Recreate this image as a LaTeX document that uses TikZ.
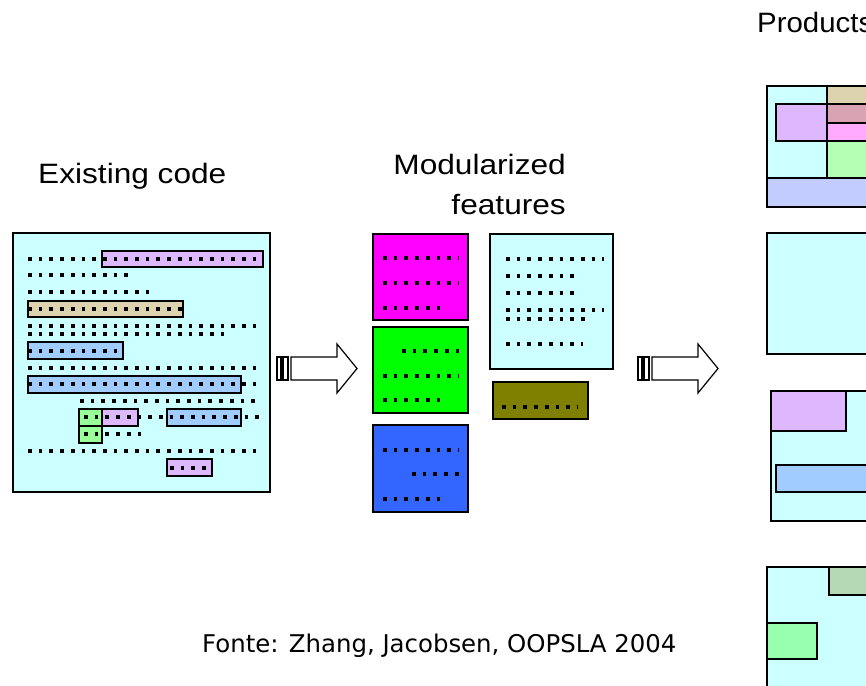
\documentclass[tikz,border=0pt]{standalone}
\usepackage{fontspec}
\setmainfont{Liberation Sans}
\newfontfamily\srcfont{DejaVu Sans}
\usepackage{graphicx}
\definecolor{codebg}{HTML}{CCFFFF}
\definecolor{lilac}{HTML}{DDB8FF}
\definecolor{tan}{HTML}{DDD3AE}
\definecolor{skyblue}{HTML}{A0CCFF}
\definecolor{mint}{HTML}{99FF99}
\definecolor{featmag}{HTML}{FF00FF}
\definecolor{featgrn}{HTML}{00FF00}
\definecolor{featblu}{HTML}{3366FF}
\definecolor{featolv}{HTML}{808000}
\definecolor{rose}{HTML}{D9A3B3}
\definecolor{pinkish}{HTML}{FFAAFF}
\definecolor{palegrn}{HTML}{B3FFB3}
\definecolor{lavblue}{HTML}{C2CCFF}
\definecolor{sage}{HTML}{B5D9B5}
\definecolor{seagrn}{HTML}{98FFAE}

\begin{document}
\begin{tikzpicture}[x=1pt, y=-1pt,
    box/.style={draw, line width=1.4pt, anchor=north west, inner sep=0pt, outer sep=0pt},
    part/.style={draw, line width=1.3pt},
    code/.style={line width=3.7pt, dash pattern=on 3.7pt off 7pt},
    title/.style={font=\fontsize{28}{32}\selectfont, inner sep=0pt},
    blockarrow/.style={draw, fill=white, line width=1.2pt, line join=miter}
]
\clip (0,0) rectangle (866,685);

% titles
\node[title, anchor=base west] (exist) at (38,183) {\scalebox{1.13}[1]{Existing code}};
\node[title, anchor=base east] (modu) at (566,174) {\scalebox{1.13}[1]{Modularized}};
\node[title, anchor=base east] (feat) at ([yshift=-40pt]modu.base east) {\scalebox{1.13}[1]{features}};
\node[title, anchor=base west] (prods) at (757,33) {\scalebox{1.05}[1]{Products}};

% existing code
\node[box, fill=codebg, minimum width=257pt, minimum height=259pt] (existing) at (13,233) {};
\filldraw[part, fill=lilac] (102,251) rectangle (263,267);
\filldraw[part, fill=tan] (28,301) rectangle (183,317);
\filldraw[part, fill=skyblue] (28,342) rectangle (123,359);
\filldraw[part, fill=skyblue] (28,376) rectangle (241,393);
\filldraw[part, fill=mint] (79,409) rectangle (102,426);
\filldraw[part, fill=mint] (79,426) rectangle (102,443);
\filldraw[part, fill=lilac] (102,409) rectangle (138,426);
\filldraw[part, fill=skyblue] (167,409) rectangle (241,426);
\filldraw[part, fill=lilac] (167,459) rectangle (212,476);
\foreach \xa/\xb/\yy in {28/258/259, 28/130/275, 28/151/292, 28/182/309, 28/263/326,
    28/226/334, 28/118/351, 28/263/368, 28/263/384, 80/256/401, 84/263/417,
    84/146/434, 28/263/451, 170/211/468}
  \draw[code] (\xa,\yy) -- (\xb,\yy);

% modularized features
\node[box, fill=featmag, minimum width=95pt, minimum height=86pt] (fmag) at (373,234) {};
\node[box, fill=featgrn, minimum width=95pt, minimum height=86pt] (fgrn) at (373,327) {};
\node[box, fill=featblu, minimum width=95pt, minimum height=87pt] (fblu) at (373,425) {};
\node[box, fill=codebg, minimum width=123pt, minimum height=135pt] (fcyan) at (490,234) {};
\node[box, fill=featolv, minimum width=95pt, minimum height=37pt] (folv) at (493,382) {};
\foreach \xa/\xb/\yy in {383/459/258, 383/459/283, 383/441/308,
    402/459/351, 383/459/376, 383/441/400,
    383/459/450, 412/459/474, 383/441/499,
    506/604/259, 506/575/276, 506/575/293, 506/604/310, 506/585/319, 506/583/344,
    502/578/407}
  \draw[code] (\xa,\yy) -- (\xb,\yy);

% arrows
\foreach \ax in {277,638} {
  \draw[blockarrow] (\ax,357) rectangle (\ax+4,380);
  \draw[blockarrow] (\ax+6,357) rectangle (\ax+11,380);
  \draw[blockarrow] (\ax+14,357) -- (\ax+60,357) -- (\ax+60,344) -- (\ax+80,368.5)
    -- (\ax+60,393) -- (\ax+60,380) -- (\ax+14,380) -- cycle;
}

% products
\node[box, line width=1.5pt, fill=codebg, minimum width=130pt, minimum height=121pt] (prod1) at (767,86) {};
\filldraw[part, fill=tan] (827,86) rectangle (900,104);
\filldraw[part, fill=rose] (827,104) rectangle (900,123);
\filldraw[part, fill=pinkish] (827,123) rectangle (900,141);
\filldraw[part, fill=palegrn] (827,141) rectangle (900,178);
\filldraw[part, fill=lilac] (776,104) rectangle (827,141);
\draw[part] (776,104) rectangle (900,141);
\filldraw[part, fill=lavblue] (767,178) rectangle (900,207);

\node[box, line width=1.5pt, fill=codebg, minimum width=130pt, minimum height=121pt] (prod2) at (767,233) {};

\node[box, line width=1.5pt, fill=codebg, minimum width=130pt, minimum height=130pt] (prod3) at (771,391) {};
\filldraw[part, fill=lilac] (771,391) rectangle (846,431);
\filldraw[part, fill=skyblue] (776,465) rectangle (900,492);

\node[box, line width=1.5pt, fill=codebg, minimum width=130pt, minimum height=140pt] (prod4) at (767,567) {};
\filldraw[part, fill=sage] (829,567) rectangle (900,595);
\filldraw[part, fill=seagrn] (767,623) rectangle (817,659);

% source
\node[font=\srcfont\fontsize{24.4}{28}\selectfont, anchor=base west, inner sep=0pt] (src) at (202,652) {Fonte: Zhang, Jacobsen, OOPSLA 2004};
\end{tikzpicture}
\end{document}
